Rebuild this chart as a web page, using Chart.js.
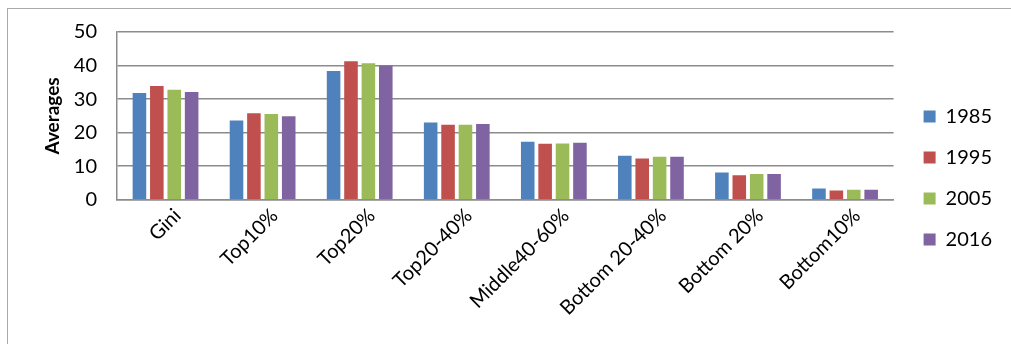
<!DOCTYPE html>
<html>
<head>
<meta charset="utf-8">
<script src="https://cdn.jsdelivr.net/npm/chart.js@4/dist/chart.umd.min.js"></script>
<style>
  html, body { margin:0; padding:0; background:#fff; }
  #wrap { position:relative; width:1011px; height:344px; overflow:hidden; }
  #frame { position:absolute; left:7px; top:8px; width:1100px; height:400px; border-left:1px solid #aaa; border-top:1px solid #aaa; }
  canvas { position:absolute; left:0; top:0; }
</style>
</head>
<body>
<div id="wrap">
  <div id="frame"></div>
  <canvas id="c" width="1011" height="344"></canvas>
</div>
<script>
/* ====== データ ====== */
const categories = ['Gini', 'Top10%', 'Top20%', 'Top20-40%', 'Middle40-60%', 'Bottom 20-40%', 'Bottom 20%', 'Bottom10%'];
const years = ['1985', '1995', '2005', '2016'];
const v1985 = [31.8, 23.6, 38.4, 23.0, 17.3, 13.1, 8.1, 3.4];
const v1995 = [33.9, 25.8, 41.3, 22.4, 16.7, 12.3, 7.3, 2.8];
const v2005 = [32.8, 25.6, 40.7, 22.4, 16.8, 12.8, 7.7, 3.0];
const v2016 = [32.1, 24.9, 40.0, 22.6, 17.0, 12.8, 7.7, 3.0];
const yTicks = [0, 10, 20, 30, 40, 50];

const colors = ['#4F81BD', '#C0504D', '#9BBB59', '#8064A2'];
const series = [v1985, v1995, v2005, v2016];

Chart.defaults.font.family = 'Lato, "Open Sans", sans-serif';
Chart.defaults.color = '#000';

// 凡例を少し右下へずらす
const shiftLegend = {
  id: 'shiftLegend',
  afterLayout(chart) {
    const lg = chart.legend;
    if (lg) { lg.left += 9; lg.right += 9; lg.top += 5; lg.bottom += 5; }
  }
};

new Chart(document.getElementById('c').getContext('2d'), {
  type: 'bar',
  data: {
    labels: categories,
    datasets: series.map((d, i) => ({
      label: years[i], data: d, backgroundColor: colors[i],
      categoryPercentage: 0.717, barPercentage: 0.78
    }))
  },
  options: {
    responsive: false, animation: false,
    layout: { padding: { left: 7, top: 22, right: 18, bottom: 20 } },
    scales: {
      x: {
        grid: { display: false, drawTicks: false },
        border: { color: '#8c8c8c', width: 1.5 },
        ticks: { font: { size: 20 }, maxRotation: 45, minRotation: 45, padding: 4, labelOffset: 12 }
      },
      y: {
        min: 0, max: 50,
        afterBuildTicks: s => { s.ticks = yTicks.map(v => ({ value: v })); },
        afterFit: s => { s.width = 110; }, // 左端を117pxに固定
        grid: { color: '#8c8c8c', lineWidth: 1.5, drawTicks: false },
        border: { color: '#8c8c8c', width: 1.5 },
        ticks: { font: { size: 20 }, padding: 20 },
        title: { display: true, text: 'Averages', font: { size: 19, weight: 'bold' }, padding: { top: 34, bottom: 4 } }
      }
    },
    plugins: {
      legend: {
        position: 'right',
        labels: { boxWidth: 12, boxHeight: 12, padding: 21, font: { size: 20 } }
      },
      tooltip: { enabled: false }
    }
  },
  plugins: [shiftLegend]
});
</script>
</body>
</html>
